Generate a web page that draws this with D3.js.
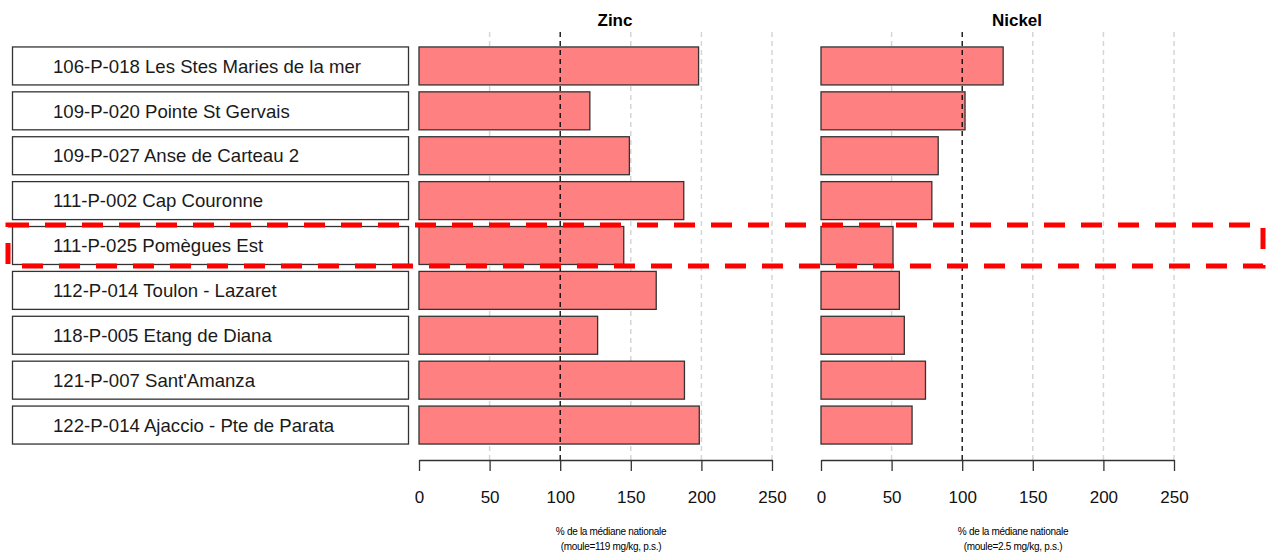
<!DOCTYPE html>
<html>
<head>
<meta charset="utf-8">
<script src="https://cdn.jsdelivr.net/npm/d3@7"></script>
<style>
  body { margin: 0; background: #fff; }
  text { font-family: "Liberation Sans", Arial, sans-serif; }
</style>
</head>
<body>
<svg id="chart" width="1266" height="554"></svg>
<script>
// stations (top to bottom)
var sites = ["106-P-018 Les Stes Maries de la mer", "109-P-020 Pointe St Gervais", "109-P-027 Anse de Carteau 2",
  "111-P-002 Cap Couronne", "111-P-025 Pomègues Est", "112-P-014 Toulon - Lazaret",
  "118-P-005 Etang de Diana", "121-P-007 Sant'Amanza", "122-P-014 Ajaccio - Pte de Parata"];

// % of national median
var zinc = [198, 121, 149, 187.5, 145, 168, 126.5, 188, 198.5];
var nickel = [129, 102, 83, 78.5, 51, 55.5, 59, 74, 64.5];

var ticks = [0, 50, 100, 150, 200, 250];
var highlighted = "111-P-025 Pomègues Est";

var panels = [
  { title: "Zinc", values: zinc, range: [419, 772], cx: 615, note: "(moule=119 mg/kg, p.s.)" },
  { title: "Nickel", values: nickel, range: [821, 1174], cx: 1017, note: "(moule=2.5 mg/kg, p.s.)" }
];

var svg = d3.select("#chart");

var y = d3.scaleBand()
  .domain(sites)
  .range([43.5, 447.5])
  .paddingInner(0.154)
  .paddingOuter(0.077);

var axisY = 460;

// label boxes
var lab = svg.append("g");
lab.selectAll("rect")
  .data(sites)
  .enter().append("rect")
  .attr("x", 12.5)
  .attr("y", function (d) { return y(d); })
  .attr("width", 396)
  .attr("height", y.bandwidth())
  .attr("fill", "#fff")
  .attr("stroke", "#333")
  .attr("stroke-width", 1.3);
lab.selectAll("text")
  .data(sites)
  .enter().append("text")
  .attr("x", 53)
  .attr("y", function (d) { return y(d) + y.bandwidth() / 2; })
  .attr("dy", "0.36em")
  .attr("font-size", 18.6)
  .attr("fill", "#1a1a1a")
  .text(function (d) { return d; });

panels.forEach(function (p) {
  var x = d3.scaleLinear().domain([0, 250]).range(p.range);
  var g = svg.append("g");

  // grid lines
  g.selectAll(".grid")
    .data(ticks.filter(function (t) { return t > 0 && t !== 100; }))
    .enter().append("line")
    .attr("x1", function (d) { return x(d); })
    .attr("x2", function (d) { return x(d); })
    .attr("y1", 32).attr("y2", axisY)
    .attr("stroke", "#d6d6d6")
    .attr("stroke-width", 1.5)
    .attr("stroke-dasharray", "5,4");

  // bars
  g.selectAll(".bar")
    .data(p.values)
    .enter().append("rect")
    .attr("x", x(0))
    .attr("y", function (d, i) { return y(sites[i]); })
    .attr("width", function (d) { return x(d) - x(0); })
    .attr("height", y.bandwidth())
    .attr("fill", "#ff8080")
    .attr("stroke", "#333")
    .attr("stroke-width", 1.3);

  // reference at 100 %
  g.append("line")
    .attr("x1", x(100)).attr("x2", x(100))
    .attr("y1", 32).attr("y2", axisY)
    .attr("stroke", "#000")
    .attr("stroke-width", 1.3)
    .attr("stroke-dasharray", "5,4");

  // axis
  var ax = g.append("g")
    .attr("transform", "translate(0," + axisY + ")")
    .call(d3.axisBottom(x).tickValues(ticks).tickSize(11).tickPadding(20).tickSizeOuter(0));
  ax.select(".domain").attr("stroke", "#333").attr("stroke-width", 1.3);
  ax.selectAll(".tick line").attr("stroke", "#333").attr("stroke-width", 1.3);
  ax.selectAll(".tick text")
    .attr("font-family", "Liberation Sans, Arial, sans-serif")
    .attr("font-size", 17)
    .attr("fill", "#111");

  // titles
  g.append("text")
    .attr("x", p.cx).attr("y", 26)
    .attr("text-anchor", "middle")
    .attr("font-size", 17)
    .attr("font-weight", "bold")
    .text(p.title);

  g.append("text")
    .attr("x", p.cx - 4).attr("y", 535)
    .attr("text-anchor", "middle")
    .attr("font-size", 10)
    .attr("letter-spacing", -0.3)
    .text("% de la médiane nationale");
  g.append("text")
    .attr("x", p.cx - 4).attr("y", 550)
    .attr("text-anchor", "middle")
    .attr("font-size", 10)
    .attr("letter-spacing", -0.3)
    .text(p.note);
});

// highlight box around the selected station
svg.append("rect")
  .attr("x", 8)
  .attr("y", y(highlighted) - 1.5)
  .attr("width", 1255)
  .attr("height", y.bandwidth() + 3)
  .attr("fill", "none")
  .attr("stroke", "#ff0000")
  .attr("stroke-width", 5)
  .attr("stroke-dasharray", "21,16");
</script>
</body>
</html>
